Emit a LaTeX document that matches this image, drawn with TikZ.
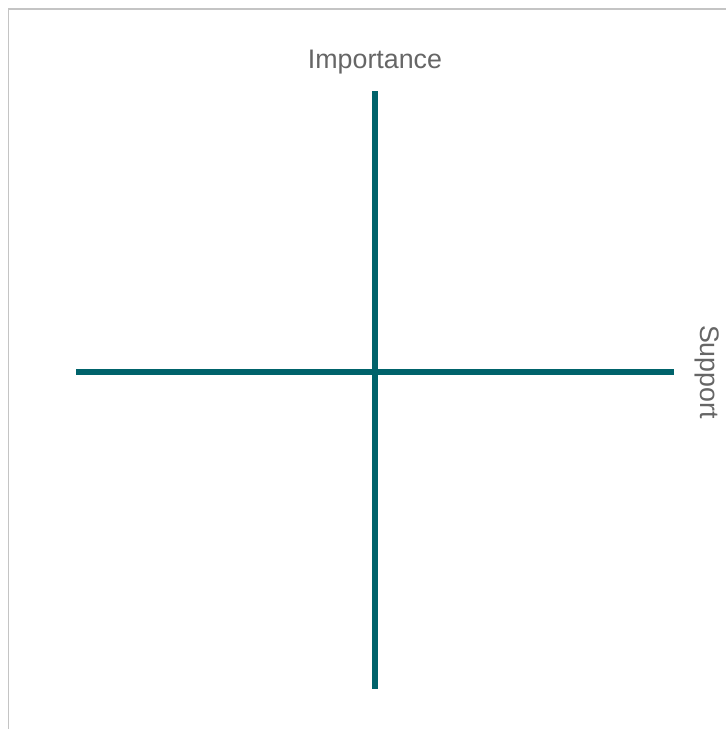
\documentclass[tikz,border=0pt]{standalone}
\usepackage{fontspec}
\setmainfont{Liberation Sans}
\definecolor{axisteal}{HTML}{00636B}
\definecolor{labelgray}{HTML}{666666}
\definecolor{framegray}{HTML}{C4C4C4}
\begin{document}
\begin{tikzpicture}[x=1pt,y=-1pt,
  axisline/.style={draw=axisteal,line width=6pt},
  axislabel/.style={text=labelgray,font=\fontsize{26.8}{32}\selectfont,inner sep=0pt}]
\useasboundingbox (0,0) rectangle (726,729);
\fill[white] (0,0) rectangle (726,729);
\draw[framegray,line width=1.5pt] (8.5,729) -- (8.5,9) -- (726,9);
\coordinate (top) at (375,91);
\coordinate (bottom) at (375,689);
\coordinate (left) at (76,372);
\coordinate (right) at (674,372);
\draw[axisline] (top) -- (bottom);
\draw[axisline] (left) -- (right);
\node[axislabel] (imp) at (375,62) {Importance};
\node[axislabel,rotate=-90] (sup) at (707,372) {Support};
\end{tikzpicture}
\end{document}
